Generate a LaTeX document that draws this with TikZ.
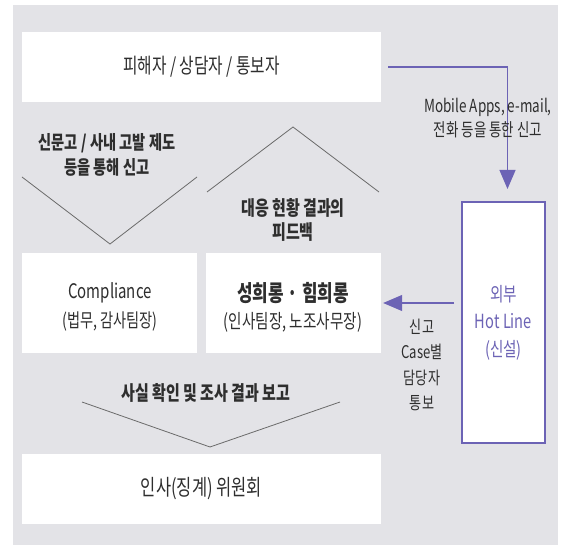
\documentclass[tikz,border=0pt]{standalone}
\usepackage{fontspec}
\setmainfont{Noto Sans CJK KR}[FakeStretch=0.75]
\usetikzlibrary{arrows.meta}
\definecolor{bggray}{HTML}{E3E3E7}
\definecolor{hlpurple}{HTML}{6C63B5}
\definecolor{txt}{HTML}{2E2E2E}
\definecolor{chev}{HTML}{6A6A6A}
\begin{document}
\begin{tikzpicture}[x=1pt,y=-1pt,
  wbox/.style={fill=white, draw=none, inner sep=0pt, text=txt, align=center},
  lbl/.style={text=txt, align=center, inner sep=0pt, font=\fontsize{18}{24}\selectfont},
  blbl/.style={text=txt, align=center, inner sep=0pt, font=\bfseries\fontsize{19}{25}\selectfont},
  chevline/.style={draw=chev, line width=0.8pt},
  plink/.style={draw=hlpurple, line width=1.1pt},
  ptip/.style={-{Triangle[width=16pt,length=19pt]}},
]
\useasboundingbox (0,0) rectangle (563,548);
\fill[bggray] (13,5) rectangle (558,545);

% boxes
\node[wbox, minimum width=359pt, minimum height=70pt, font=\fontsize{21}{24}\selectfont] (top) at (201.5,67) {피해자 / 상담자 / 통보자};
\node[wbox, minimum width=175pt, minimum height=100pt] (comp) at (109.5,303) {};
\node[wbox, minimum width=175pt, minimum height=100pt] (mid) at (293.5,303) {};
\node[wbox, minimum width=359pt, minimum height=70pt, font=\fontsize{22}{24}\selectfont] (hr) at (201.5,489) {인사(징계) 위원회};
\node[fill=white, draw=hlpurple, line width=2pt, minimum width=83pt, minimum height=241pt, inner sep=0pt,
      text=hlpurple, align=center, font=\fontsize{19.5}{27.5}\selectfont] (hot) at (503.5,322.5) {외부\\Hot Line\\(신설)};

% box texts
\node[text=txt, inner sep=0pt, font=\fontsize{20}{22}\selectfont] (compT) at (110,293) {Compliance};
\node[text=txt, inner sep=0pt, font=\fontsize{19}{22}\selectfont] (compS) at (110,322) {(법무, 감사팀장)};
\node[text=txt, inner sep=0pt, font=\bfseries\fontsize{22.5}{24}\selectfont] (midT) at (293,293) {성희롱 · 힘희롱};
\node[text=txt, inner sep=0pt, font=\fontsize{19.5}{22}\selectfont] (midS) at (293,322) {(인사팀장, 노조사무장)};

% connectors (drawn before the label that overlaps them)
\draw[plink, ptip] ([xshift=7pt]top.east) -| ([xshift=4pt,yshift=12pt]hot.north);
\draw[plink, ptip] ([xshift=-7pt]hot.west |- mid.east) -- ([xshift=2pt]mid.east);

% labels
\node[lbl, font=\fontsize{18}{24}\selectfont] (mob) at (488,118) {Mobile Apps, e-mail,\\전화 등을 통한 신고};
\node[blbl] (lchevT) at (107,155) {신문고 / 사내 고발 제도\\등을 통해 신고};
\node[blbl, font=\bfseries\fontsize{20}{24}\selectfont] (mchevT) at (293,220) {대응 현황 결과의\\피드백};
\node[lbl, font=\fontsize{17.5}{25.5}\selectfont] (caseT) at (422,365) {신고\\Case별\\담당자\\통보};
\node[blbl, font=\bfseries\fontsize{20}{24}\selectfont] (bchevT) at (206,393) {사실 확인 및 조사 결과 보고};

% chevrons
\draw[chevline] (22,177) -- (110,244) -- (197,177);
\draw[chevline] (207,192) -- (293,127) -- (379,192);
\draw[chevline] (82,402) -- (210,447) -- (340,402);
\end{tikzpicture}
\end{document}
